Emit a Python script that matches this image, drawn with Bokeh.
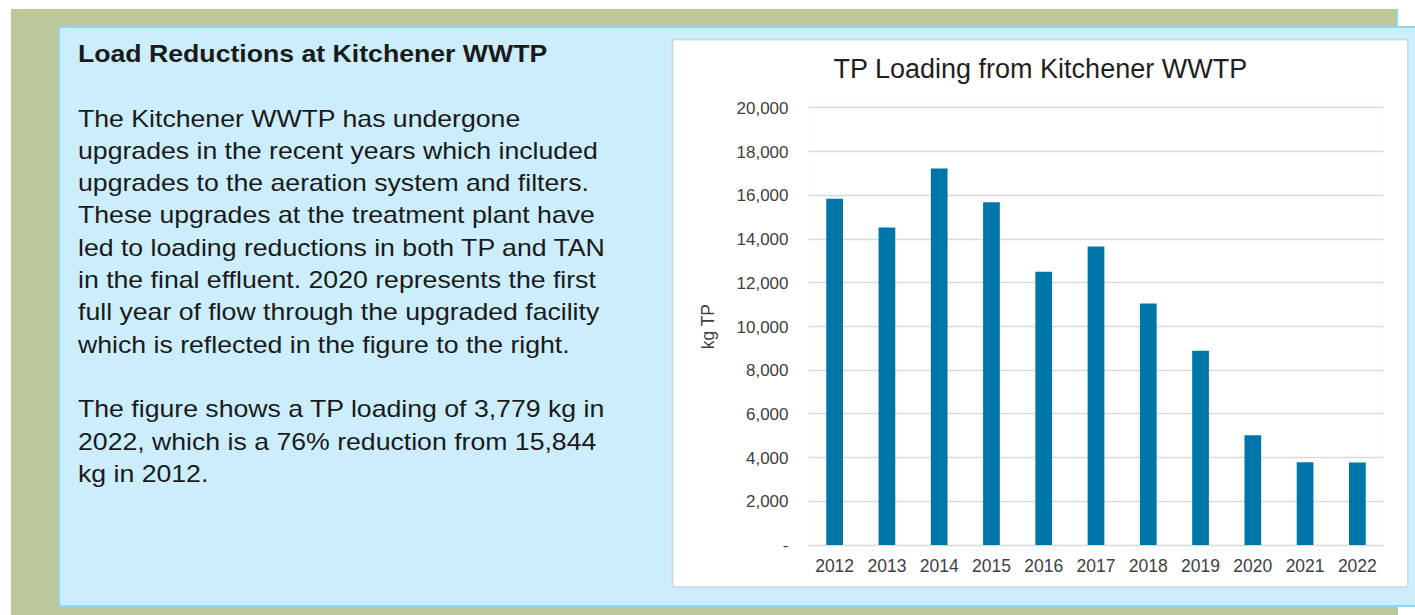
from bokeh.plotting import figure
from bokeh.models import Div, FactorRange, Range1d, FixedTicker, ColumnDataSource, Title
from bokeh.layouts import row
from bokeh.embed import file_html
from bokeh.resources import INLINE

# ---------------- data ----------------
years = ["2012", "2013", "2014", "2015", "2016", "2017", "2018", "2019", "2020", "2021", "2022"]
tp_kg = [15844, 14530, 17230, 15680, 12500, 13660, 11050, 8890, 5020, 3790, 3779]
y_ticks = [0, 2000, 4000, 6000, 8000, 10000, 12000, 14000, 16000, 18000, 20000]
y_tick_labels = ["-", "2,000", "4,000", "6,000", "8,000", "10,000", "12,000",
                 "14,000", "16,000", "18,000", "20,000"]

chart_title = "TP Loading from Kitchener WWTP"
y_label = "kg TP"
heading = "Load Reductions at Kitchener WWTP"
para1_lines = [
    "The Kitchener WWTP has undergone",
    "upgrades in the recent years which included",
    "upgrades to the aeration system and filters.",
    "These upgrades at the treatment plant have",
    "led to loading reductions in both TP and TAN",
    "in the final effluent. 2020 represents the first",
    "full year of flow through the upgraded facility",
    "which is reflected in the figure to the right.",
]
para2_lines = [
    "The figure shows a TP loading of 3,779 kg in",
    "2022, which is a 76% reduction from 15,844",
    "kg in 2012.",
]

# ---------------- style ----------------
FONT = "Liberation Sans"
OLIVE = "#bbc89a"
PANEL = "#cceefc"
PANEL_EDGE = "#8fd6f4"
BAR = "#0076a8"
GRID = "#d9d9d9"
TEXT_STRETCH = 1.11

src = ColumnDataSource(data=dict(year=years, tp=tp_kg))

p = figure(
    width=734, height=546,
    x_range=FactorRange(*years),
    y_range=Range1d(-250, 20250),
    output_backend="svg", toolbar_location=None,
    min_border_left=135, min_border_right=24, min_border_top=62, min_border_bottom=36,
    border_fill_color="white", background_fill_color="white",
    outline_line_color=None,
    margin=(14, 0, 0, 15),
    styles={"box-shadow": "0 0 0 1.5px #d6d6d6"},
)

p.vbar(x="year", top="tp", width=0.32, source=src, fill_color=BAR, line_color=None)

# spacer between the frame and the title, then the title itself
p.add_layout(Title(text=" ", text_font_size="10px", standoff=1), "above")
p.add_layout(Title(text=chart_title, align="left", offset=25, standoff=10,
                   text_font=FONT, text_font_size="27px", text_font_style="normal",
                   text_color="#1f1f1f"), "above")

ticker = FixedTicker(ticks=y_ticks)
p.yaxis.ticker = ticker
p.yaxis.major_label_overrides = {t: lab for t, lab in zip(y_ticks, y_tick_labels)}
p.ygrid.ticker = ticker
p.ygrid.grid_line_color = GRID
p.ygrid.grid_line_width = 1.5
p.xgrid.visible = False

for ax in (p.xaxis, p.yaxis):
    ax.axis_line_color = None
    ax.major_tick_line_color = None
    ax.minor_tick_line_color = None
    ax.major_tick_out = 0
    ax.major_tick_in = 0
    ax.major_label_text_font = FONT
    ax.major_label_text_color = "#404040"

p.yaxis.major_label_text_font_size = "17px"
p.yaxis.major_label_standoff = 20
p.yaxis.axis_label = y_label
p.yaxis.axis_label_text_font = FONT
p.yaxis.axis_label_text_font_size = "17.5px"
p.yaxis.axis_label_text_font_style = "normal"
p.yaxis.axis_label_text_color = "#404040"
p.yaxis.axis_label_standoff = 16

p.xaxis.major_label_text_font_size = "17.5px"
p.xaxis.major_label_standoff = 8

html = (
    f'<div style="font-family:\'{FONT}\',Arial,sans-serif;font-size:24px;line-height:32.3px;'
    f'color:#1a1a1a;white-space:nowrap;transform:scaleX({TEXT_STRETCH});transform-origin:0 0;">'
    f'<b>{heading}</b><br><br>'
    + "<br>".join(para1_lines) + "<br><br>" + "<br>".join(para2_lines)
    + "</div>"
)
text_div = Div(text=html, width=580, height=560, margin=(12, 0, 0, 20))

panel = row(
    text_div, p, width=1357, height=581, margin=(26, 0, 0, 58),
    styles={"background-color": PANEL,
            "box-shadow": f"inset 2px 2px 0 {PANEL_EDGE}, inset 0 -2px 0 {PANEL_EDGE}"},
)

outer = row(
    panel, width=1415, height=615,
    styles={"background": (f"linear-gradient({PANEL_EDGE},{PANEL_EDGE}) 1396px 9px / 2px 17px no-repeat, "
                           f"linear-gradient({OLIVE},{OLIVE}) 11px 9px / 1387px 606px no-repeat, #ffffff")},
)

open("out.html", "w").write(file_html(outer, INLINE))
